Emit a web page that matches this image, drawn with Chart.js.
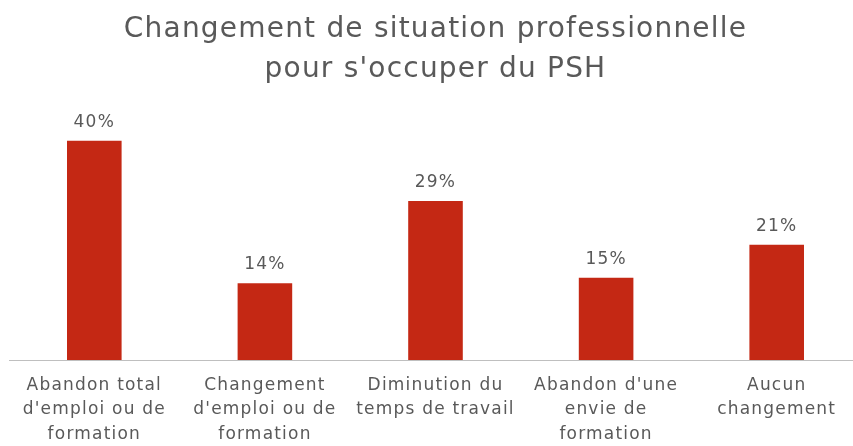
<!DOCTYPE html>
<html>
<head>
<meta charset="utf-8">
<script src="https://cdn.jsdelivr.net/npm/chart.js@4/dist/chart.umd.min.js"></script>
<style>
  html, body { margin: 0; padding: 0; background: #fff; overflow: hidden; }
  #wrap { width: 862px; height: 446px; }
</style>
</head>
<body>
<div id="wrap"><canvas id="chart"></canvas></div>
<script>
const categories = [
    ["Abandon total", "d'emploi ou de", "formation"],
    ["Changement", "d'emploi ou de", "formation"],
    ["Diminution du", "temps de travail"],
    ["Abandon d'une", "envie de", "formation"],
    ["Aucun", "changement"]
]
const shares = [0.40, 0.14, 0.29, 0.15, 0.21]
const titleLines = ["Changement de situation professionnelle", "pour s'occuper du PSH"]

const fontFamily = "'DejaVu Sans', sans-serif"

// wider letters, closer to the original font
const spacing = {
    id: "spacing",
    beforeDraw(chart) {
        chart.ctx.letterSpacing = "1.2px"
    }
}

// draws the % value over each bar
const valueLabels = {
    id: "valueLabels",
    afterDatasetsDraw(chart) {
        const ctx = chart.ctx
        const meta = chart.getDatasetMeta(0)
        ctx.save()
        ctx.font = "17px " + fontFamily
        ctx.fillStyle = "#595959"
        ctx.textAlign = "center"
        ctx.textBaseline = "bottom"
        meta.data.forEach((bar, i) => {
            const v = chart.data.datasets[0].data[i]
            ctx.fillText(Math.round(v * 100) + "%", bar.x, bar.y - 10)
        })
        ctx.restore()
    }
}

const chart = new Chart(document.getElementById("chart"), {
    type: "bar",
    data: {
        labels: categories,
        datasets: [{
            data: shares,
            backgroundColor: "#C42814",
            barPercentage: 0.32,
            categoryPercentage: 1
        }]
    },
    options: {
        responsive: true,
        maintainAspectRatio: false,
        animation: false,
        layout: { padding: { left: 9, right: 0, top: 0, bottom: -14 } },
        plugins: {
            legend: { display: false },
            tooltip: { enabled: false },
            title: {
                display: true,
                text: titleLines,
                color: "#595959",
                font: { family: fontFamily, size: 28, weight: "normal", lineHeight: 1.45 },
                padding: { top: 9, bottom: 23 }
            }
        },
        scales: {
            y: { display: false, min: 0, max: 0.45 },
            x: {
                grid: { display: false, drawTicks: false },
                border: { display: true, color: "#BFBFBF", width: 1 },
                ticks: {
                    color: "#595959",
                    padding: 13,
                    maxRotation: 0,
                    autoSkip: false,
                    font: { family: fontFamily, size: 17, lineHeight: 1.45 }
                }
            }
        }
    },
    plugins: [spacing, valueLabels]
})
</script>
</body>
</html>
